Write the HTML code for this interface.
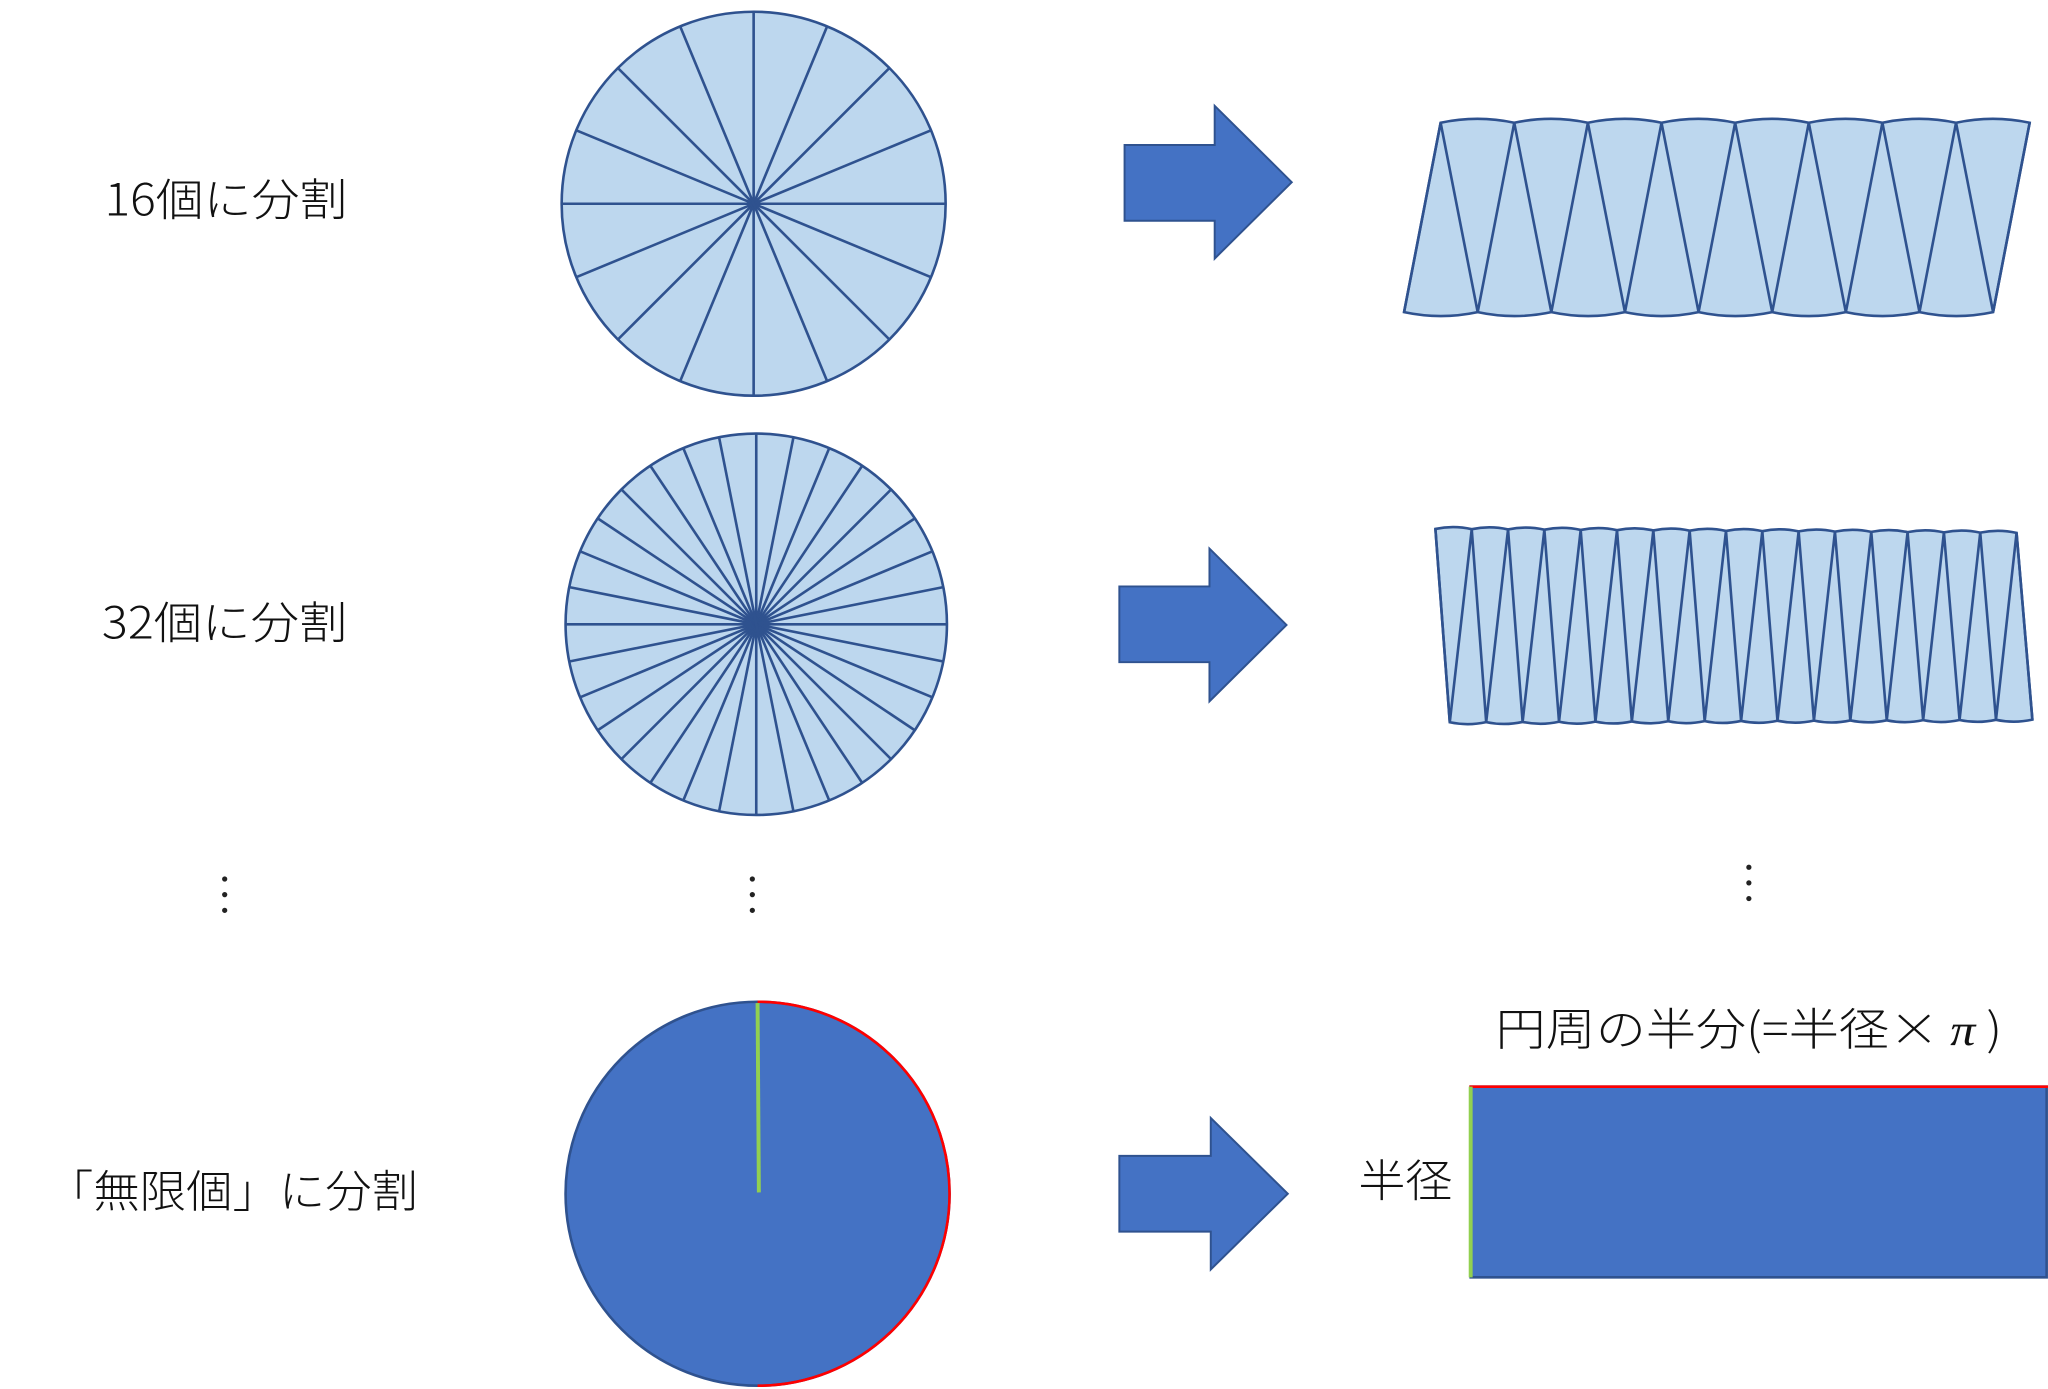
<!DOCTYPE html>
<html><head><meta charset="utf-8"><style>
html,body{margin:0;padding:0;background:#fff;}
svg{display:block;}
text{font-family:"Noto Sans CJK JP","Liberation Sans",sans-serif;font-weight:300;fill:#111;}
</style></head><body>
<svg id="s" width="2048" height="1389" viewBox="0 0 1568 1063.5" xmlns="http://www.w3.org/2000/svg">
<g id="g"></g>
<text x="80" y="165" font-size="34" textLength="186" lengthAdjust="spacingAndGlyphs">16個に分割</text>
<text x="78" y="489" font-size="34" textLength="188" lengthAdjust="spacingAndGlyphs">32個に分割</text>
<text x="36" y="924" font-size="34" textLength="284" lengthAdjust="spacingAndGlyphs">「無限個」に分割</text>
<text x="1145" y="800" font-size="34" textLength="388" lengthAdjust="spacingAndGlyphs">円周の半分(=半径× <tspan font-style="italic" font-family="Liberation Serif,serif">π</tspan> )</text>
<text x="1040" y="916" font-size="34" textLength="72" lengthAdjust="spacingAndGlyphs">半径</text>
<g fill="#222">
<circle cx="172" cy="673" r="2"/><circle cx="172" cy="685" r="2"/><circle cx="172" cy="697" r="2"/>
<circle cx="576" cy="673" r="2"/><circle cx="576" cy="685" r="2"/><circle cx="576" cy="697" r="2"/>
<circle cx="1339" cy="664" r="2"/><circle cx="1339" cy="676" r="2"/><circle cx="1339" cy="688" r="2"/>
</g>
</svg>
<script>
var g=document.getElementById('g'),h='';
var L='#BDD7EE',S='#2F528F',B='#4472C4';
function wheel(cx,cy,r,n){h+='<circle cx="'+cx+'" cy="'+cy+'" r="'+r+'" fill="'+L+'" stroke="'+S+'" stroke-width="2"/>';
for(var i=0;i<n/2;i++){var a=Math.PI*2*i/n,dx=r*Math.sin(a),dy=r*Math.cos(a);
h+='<line x1="'+(cx+dx)+'" y1="'+(cy-dy)+'" x2="'+(cx-dx)+'" y2="'+(cy+dy)+'" stroke="'+S+'" stroke-width="2"/>';}}
wheel(577,156,147,16);wheel(579,478,146,32);
function arrow(x0,x1,x2,yt,yb,ht,hb){var yc=(ht+hb)/2;
h+='<polygon points="'+x0+','+yt+' '+x1+','+yt+' '+x1+','+ht+' '+x2+','+yc+' '+x1+','+hb+' '+x1+','+yb+' '+x0+','+yb+'" fill="'+B+'" stroke="'+S+'" stroke-width="1.5"/>';}
arrow(861,930,989,111,169,81,198);arrow(857,926,985,449,507,420,537);arrow(857,927,986,885,943,856,972);
function strip(top,bot,yt0,yt1,yb0,yb1,bul){var n=top.length-1;
function yt(x){return yt0+(yt1-yt0)*(x-top[0])/(top[n]-top[0]);}
function yb(x){return yb0+(yb1-yb0)*(x-bot[0])/(bot[n]-bot[0]);}
var d='M'+top[0]+','+yt(top[0]);
for(var i=1;i<=n;i++){var m=(top[i-1]+top[i])/2;d+=' Q'+m+','+(yt(m)-2*bul)+' '+top[i]+','+yt(top[i]);}
d+=' L'+bot[n]+','+yb(bot[n]);
for(var i=n-1;i>=0;i--){var m=(bot[i+1]+bot[i])/2;d+=' Q'+m+','+(yb(m)+2*bul)+' '+bot[i]+','+yb(bot[i]);}
d+='Z';h+='<path d="'+d+'" fill="'+L+'" stroke="'+S+'" stroke-width="2"/>';return [yt,yb];}
var t1=[],b1=[];for(var i=0;i<=8;i++){t1.push(1103+i*56.375);b1.push(1075+i*56.375);}
var f=strip(t1,b1,94,94,239,239,3);var p='';
for(var i=0;i<=8;i++){p+=b1[i]+','+f[1](b1[i])+' '+t1[i]+','+f[0](t1[i])+' ';}
h+='<polyline points="'+p+'" fill="none" stroke="'+S+'" stroke-width="2"/>';
var t2=[],b2=[];for(var i=0;i<=16;i++){t2.push(1099+i*27.81);b2.push(1110+i*27.88);}
f=strip(t2,b2,405,408,553,551,1.5);p='';
for(var i=0;i<=16;i++){p+=t2[i]+','+f[0](t2[i])+' '+b2[i]+','+f[1](b2[i])+' ';}
h+='<polyline points="'+p+'" fill="none" stroke="'+S+'" stroke-width="2"/>';
h+='<circle cx="580" cy="914" r="147" fill="'+B+'" stroke="'+S+'" stroke-width="2"/>';
h+='<path d="M580,767 A147,147 0 0 1 580,1061" fill="none" stroke="#FF0000" stroke-width="2"/>';
h+='<line x1="580" y1="768" x2="581" y2="913" stroke="#92D050" stroke-width="3"/>';
h+='<rect x="1126" y="832" width="441" height="146" fill="'+B+'" stroke="'+S+'" stroke-width="2"/>';
h+='<line x1="1125" y1="832" x2="1568" y2="832" stroke="#FF0000" stroke-width="2"/>';
h+='<line x1="1126" y1="832" x2="1126" y2="978" stroke="#92D050" stroke-width="3"/>';
g.innerHTML=h;
</script>
</body></html>
